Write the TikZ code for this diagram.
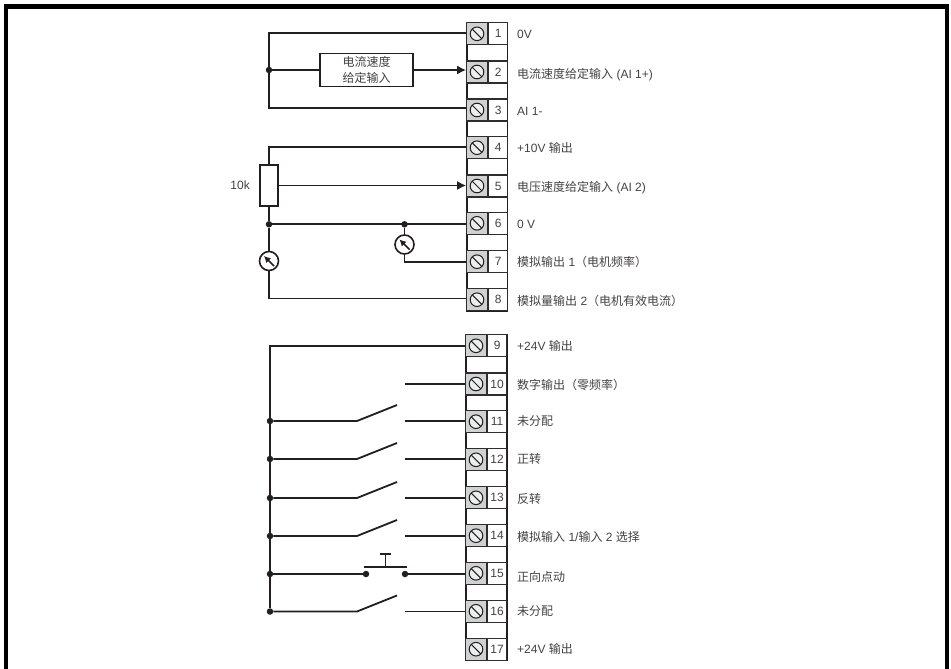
\documentclass[tikz,border=0pt]{standalone}
\usepackage{fontspec}
\setmainfont{Liberation Sans}
\newfontfamily\cjk{Noto Sans CJK SC}
\newcommand{\zh}[1]{{\cjk #1}}
\usetikzlibrary{arrows.meta,calc}
\definecolor{ink}{HTML}{231F20}
\definecolor{cellgray}{HTML}{D0D1D2}
\tikzset{
  wire/.style={draw=ink,line width=1.8pt},
  arrowwire/.style={wire,-{Latex[length=9pt,width=9pt]}},
  dotj/.style={circle,fill=ink,inner sep=0pt,minimum size=6.5pt},
  screwcell/.style={draw=ink!85!gray,line width=1.1pt,fill=cellgray,minimum width=20.5pt,minimum height=22pt,inner sep=0pt},
  numcell/.style={draw=ink!85!gray,line width=1.1pt,fill=white,minimum width=19.5pt,minimum height=22pt,inner sep=0pt,font=\fontsize{12}{13}\selectfont,text=ink!85},
  termlabel/.style={anchor=base west,inner sep=0pt,font=\fontsize{12}{14}\selectfont,text=ink!85},
  meter/.style={circle,draw=ink,line width=1.6pt,fill=white,minimum size=19pt,inner sep=0pt},
  blockout/.style={draw=ink,line width=1.8pt,fill=white},
}
\begin{document}
\begin{tikzpicture}[x=1pt,y=-1pt]
\useasboundingbox (0,0) rectangle (951,669);
% frame
\fill[black] (4,4) rectangle (949,9);
\fill[black] (4,4) rectangle (8,669);
\fill[black] (945,4) rectangle (949,669);
% outer terminal blocks
\draw[blockout] (467,22.7) rectangle (507.5,310.7);
\draw[blockout] (466,335) rectangle (507,660.5);
% terminals
\foreach \i/\xx/\yy/\ly/\t in {
 1/477/33.8/38.6/{0V},
 2/477/72/78.4/{\zh{电流速度给定输入} (AI 1+)},
 3/477/110/115/{AI 1-},
 4/477/147.7/152/{+10V \zh{输出}},
 5/477/186/191/{\zh{电压速度给定输入} (AI 2)},
 6/477/223.3/228.7/{0 V},
 7/477/261.7/266/{\zh{模拟输出} 1\zh{（电机频率）}},
 8/477/299.7/305.4/{\zh{模拟量输出} 2\zh{（电机有效电流）}},
 9/476/345.8/350/{+24V \zh{输出}},
 10/476/384/389.4/{\zh{数字输出（零频率）}},
 11/476/421.7/425/{\zh{未分配}},
 12/476/459.8/463.4/{\zh{正转}},
 13/476/497.8/503/{\zh{反转}},
 14/476/535.7/541.7/{\zh{模拟输入} 1/\zh{输入} 2 \zh{选择}},
 15/476/573.3/581/{\zh{正向点动}},
 16/476/611.3/615.7/{\zh{未分配}},
 17/476/649.2/653.7/{+24V \zh{输出}}}{
  \node[screwcell] (g\i) at (\xx,\yy) {};
  \node[numcell,anchor=west] (n\i) at (g\i.east) {\i};
  \draw[ink,line width=1pt,fill=cellgray!40] (g\i.center) circle (6.8pt);
  \draw[ink,line width=1pt] ($(g\i.center)+(-4.8,-4.8)$) -- ($(g\i.center)+(4.8,4.8)$);
  \node[termlabel] (l\i) at (517,\ly) {\t};
}
% block 1-3
\coordinate (a1) at (269,33.3);
\coordinate (a3) at (269,108.3);
\node[dotj] (ja) at (269,70) {};
\node[draw=ink,line width=1.8pt,fill=white,minimum width=93pt,minimum height=33pt,inner sep=0pt,align=center,font=\fontsize{12}{16}\selectfont\cjk,text=ink!85] (cur) at (366.5,70) {电流速度\\给定输入};
\draw[wire] (g1.west |- a1) -- (a1) -- (a3) -- (g3.west |- a3);
\draw[wire] (ja) -- (cur.west);
\draw[arrowwire] (cur.east) -- (g2.west |- cur.east);
% pot
\node[draw=ink,line width=1.8pt,fill=white,minimum width=18.5pt,minimum height=41pt,inner sep=0pt] (pot) at (269,185.5) {};
\node[anchor=east,inner sep=0pt,font=\fontsize{12}{14}\selectfont,text=ink!85] (potl) at (250,185) {10k};
\coordinate (a4) at (269,146.7);
\node[dotj] (jb) at (269,224.3) {};
\node[dotj] (jc) at (404.5,224.3) {};
\node[meter] (m1) at (269,261) {};
\node[meter] (m2) at (404.5,244.5) {};
\coordinate (a7) at (404.5,261.7);
\coordinate (a8) at (269,298.5);
\draw[wire] (g4.west |- a4) -- (a4) -- (pot.north);
\draw[arrowwire] (pot.east) -- (g5.west |- pot.east);
\draw[wire] (pot.south) -- (jb) -- (m1.north);
\draw[wire] (jb) -- (g6.west |- jb);
\draw[wire] (jc) -- (m2.north);
\draw[wire] (m2.south) -- (a7) -- (g7.west |- a7);
\draw[wire] (m1.south) -- (a8) -- (g8.west |- a8);
\foreach \m in {m1,m2}{
  \draw[ink,line width=1.5pt,-{Latex[length=6.5pt,width=7pt]}] ($(\m.center)+(5,5)$) -- ($(\m.center)+(-5,-5)$);
}
% bus
\coordinate (a9) at (270,346);
\foreach \r/\yy in {11/421,12/459,13/498,14/536,15/574,16/611.5}{
  \node[dotj] (b\r) at (270,\yy) {};
}
\draw[wire] (g9.west |- a9) -- (a9) -- (b16);
% output 10
\coordinate (c10) at (405,384);
\draw[wire] (c10) -- (g10.west);
% switches
\foreach \r/\yy in {11/421,12/459,13/498,14/536,16/611.5}{
  \coordinate (s\r) at (357,\yy);
  \coordinate (e\r) at (397,\yy-16);
  \coordinate (c\r) at (405,\yy);
  \draw[wire] (b\r) -- (s\r) -- (e\r);
  \draw[wire] (c\r) -- (g\r.west |- c\r);
}
% push button
\node[dotj] (p1) at (366,574) {};
\node[dotj] (p2) at (405,574) {};
\coordinate (pa) at (364,567);
\coordinate (pb) at (407,567);
\coordinate (pc) at (385.5,567);
\coordinate (pd) at (385.5,554);
\coordinate (pe) at (380,554);
\coordinate (pf) at (391,554);
\draw[wire] (b15) -- (p1);
\draw[wire] (p2) -- (g15.west |- p2);
\draw[wire] (pa) -- (pb);
\draw[wire] (pc) -- (pd);
\draw[wire] (pe) -- (pf);
\end{tikzpicture}
\end{document}
